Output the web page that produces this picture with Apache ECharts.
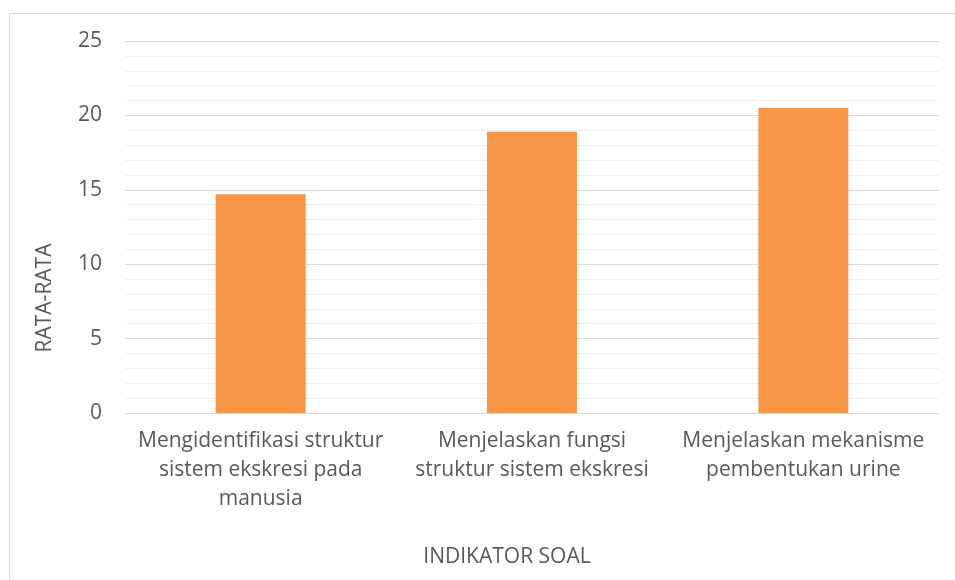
<!DOCTYPE html>
<html>
<head>
<meta charset="utf-8">
<script src="https://cdn.jsdelivr.net/npm/echarts@6/dist/echarts.min.js"></script>
<style>
html,body{margin:0;padding:0;background:#fff;}
#chart{width:955px;height:580px;}
</style>
</head>
<body>
<div id="chart"></div>
<script>
var categories = [
  'Mengidentifikasi struktur\nsistem ekskresi pada\nmanusia',
  'Menjelaskan fungsi\nstruktur sistem ekskresi',
  'Menjelaskan mekanisme\npembentukan urine'
];
var values = [14.7, 18.9, 20.5];
var yTicks = [0, 5, 10, 15, 20, 25];
var xAxisName = 'INDIKATOR SOAL';
var yAxisName = 'RATA-RATA';

var FONT = '"Open Sans", sans-serif';
var chart = echarts.init(document.getElementById('chart'), null, {renderer: 'canvas'});
chart.setOption({
  backgroundColor: '#ffffff',
  animation: false,
  grid: {left: 125, right: 16, top: 41, bottom: 167, containLabel: false},
  xAxis: {
    type: 'category',
    data: categories,
    axisLine: {show: true, lineStyle: {color: '#d9d9d9', width: 1}},
    axisTick: {show: false},
    axisLabel: {
      color: '#595959', fontFamily: FONT, fontSize: 21, lineHeight: 29,
      margin: 14, interval: 0, align: 'center'
    },
    splitLine: {show: false}
  },
  yAxis: {
    type: 'value',
    min: yTicks[0],
    max: yTicks[yTicks.length - 1],
    interval: 5,
    axisLine: {show: false},
    axisTick: {show: false},
    axisLabel: {color: '#595959', fontFamily: FONT, fontSize: 21, margin: 23},
    splitLine: {show: true, lineStyle: {color: '#d9d9d9', width: 1}},
    minorTick: {show: false, splitNumber: 5},
    minorSplitLine: {show: true, lineStyle: {color: '#f0f0f0', width: 1}}
  },
  series: [{
    type: 'bar',
    data: values,
    barWidth: 90,
    itemStyle: {color: '#f79646'}
  }],
  graphic: [
    {type: 'rect', left: 7, top: 11, shape: {width: 1000, height: 700},
      style: {fill: 'none', stroke: '#d9d9d9', lineWidth: 1}, z: -1, silent: true},
    {type: 'text', x: 507, y: 557, style: {text: xAxisName, fill: '#595959', font: '21px ' + FONT, textAlign: 'center', textVerticalAlign: 'middle'}},
    {type: 'text', x: 45, y: 298, rotation: Math.PI / 2, style: {text: yAxisName, fill: '#595959', font: '21px ' + FONT, textAlign: 'center', textVerticalAlign: 'middle'}}
  ]
});
</script>
</body>
</html>
